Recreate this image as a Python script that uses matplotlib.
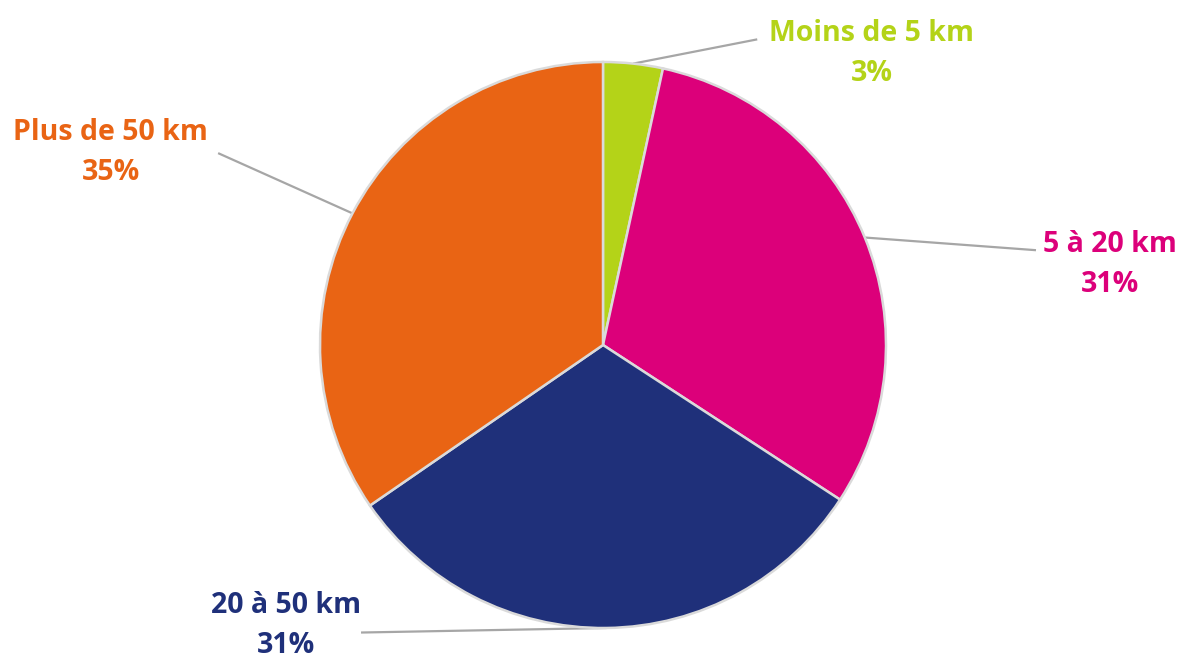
import numpy as np
import matplotlib
matplotlib.use("Agg")
import matplotlib.pyplot as plt

# data (share of trips by distance)
categories = ["Moins de 5 km", "5 à 20 km", "20 à 50 km", "Plus de 50 km"]
values = [3.4, 30.8, 31.2, 34.6]
colors = ["#B4D318", "#DC007A", "#1F307A", "#E96414"]

# label anchor (end of leader line) and text centre, in pie radius units
label_anchor = [(0.545, 1.08), (1.53, 0.335), (-0.855, -1.016), (-1.36, 0.678)]
label_text = [(0.95, 1.03), (1.79, 0.285), (-1.12, -0.99), (-1.74, 0.68)]

plt.rcParams['font.family'] = ['Open Sans', 'DejaVu Sans']

fig = plt.figure(figsize=(11.83, 6.62), dpi=100)
ax = fig.add_axes([0, 0, 1, 1])

wedges, _ = ax.pie(values, colors=colors, startangle=90, counterclock=False,
                   radius=1.0,
                   wedgeprops=dict(edgecolor="#DADADA", linewidth=1.8))

total = sum(values)
for w, cat, v, col, anc, txt in zip(wedges, categories, values, colors,
                                    label_anchor, label_text):
    mid = np.deg2rad((w.theta1 + w.theta2) / 2)
    x0, y0 = np.cos(mid), np.sin(mid)
    ax.plot([x0, anc[0]], [y0, anc[1]], color="#A6A6A6", lw=1.6,
            solid_capstyle="butt", zorder=0.5)
    pct = round(v / total * 100)
    ax.text(txt[0], txt[1], f"{cat}\n{pct}%", color=col, fontsize=20.5,
            fontweight="bold", ha="center", va="center", linespacing=1.5)

ax.set_xlim(-603 / 283, (1183 - 603) / 283)
ax.set_ylim(-(662 - 345) / 283, 345 / 283)
ax.set_aspect("equal")
ax.axis("off")

fig.savefig("out.png", dpi=100, facecolor="white")
